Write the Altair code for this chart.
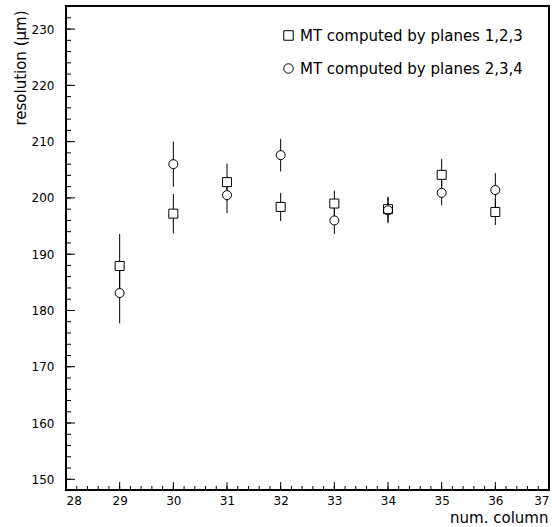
import altair as alt
import pandas as pd

# ---- data ----
columns = [29, 30, 31, 32, 33, 34, 35, 36]
res_123 = [187.9, 197.2, 202.8, 198.4, 199.0, 198.0, 204.1, 197.5]
err_123 = [5.7, 3.5, 3.3, 2.5, 2.3, 2.2, 2.8, 2.3]
res_234 = [183.1, 206.0, 200.5, 207.6, 196.0, 197.8, 200.9, 201.4]
err_234 = [5.4, 4.0, 3.2, 2.9, 2.4, 2.3, 2.2, 3.0]
series_names = ["MT computed by planes 1,2,3", "MT computed by planes 2,3,4"]

x_major = [28, 29, 30, 31, 32, 33, 34, 35, 36, 37]
x_minor = [round(28 + 0.2 * i, 1) for i in range(46)]
y_major = [150, 160, 170, 180, 190, 200, 210, 220, 230]
y_minor = list(range(148, 235, 2))

FONT = "DejaVu Sans"
W, H = 483, 484

rows = []
for c, v, e in zip(columns, res_123, err_123):
    rows.append({"col": c, "res": v, "err": e, "series": series_names[0]})
for c, v, e in zip(columns, res_234, err_234):
    rows.append({"col": c, "res": v, "err": e, "series": series_names[1]})
df = pd.DataFrame(rows)

xscale = alt.Scale(domain=[28, 37], nice=False, zero=False)
yscale = alt.Scale(domain=[148.1, 234.1], nice=False, zero=False)
shape_scale = alt.Scale(domain=series_names, range=["square", "circle"])
color_scale = alt.Scale(domain=series_names, range=["black", "black"])

xaxis = alt.Axis(values=x_major, ticks=False, domain=False, grid=False,
                 labelFontSize=12, labelPadding=5, labelFont=FONT,
                 title="num. column", titleFont=FONT, titleFontSize=15,
                 titleFontWeight="normal", titleAlign="right",
                 titleAnchor="end", titleX=482, titleY=32,
                 titleBaseline="alphabetic", format="d")
yaxis = alt.Axis(values=y_major, ticks=False, domain=False, grid=False,
                 labelFontSize=12, labelPadding=12, labelFont=FONT,
                 title="resolution (μm)", titleFont=FONT, titleFontSize=15,
                 titleFontWeight="normal", titleAlign="right",
                 titleX=-46, titleY=4, titleBaseline="middle", titleAngle=-90)

legend = alt.Legend(title=None, orient="none", legendX=215, legendY=22,
                    symbolSize=90, symbolStrokeWidth=1, symbolOpacity=1,
                    labelFont=FONT, labelFontSize=15, labelColor="black",
                    labelLimit=0, labelOffset=4, rowPadding=17, padding=0)

base = alt.Chart(df)

bars = base.transform_calculate(
    lo="datum.res - datum.err", hi="datum.res + datum.err"
).mark_rule(color="black", strokeWidth=1).encode(
    x=alt.X("col:Q", scale=xscale, axis=xaxis),
    y=alt.Y("lo:Q", scale=yscale, axis=yaxis),
    y2="hi:Q",
)

under_sq = base.transform_filter(
    alt.datum.series == series_names[0]
).mark_point(size=81, filled=True, color="white", opacity=1, shape="square").encode(
    x=alt.X("col:Q", scale=xscale), y=alt.Y("res:Q", scale=yscale))
under_ci = base.transform_filter(
    alt.datum.series == series_names[1]
).mark_point(size=81, filled=True, color="white", opacity=1, shape="circle").encode(
    x=alt.X("col:Q", scale=xscale), y=alt.Y("res:Q", scale=yscale))

points = base.mark_point(size=81, filled=False, strokeWidth=1, opacity=1).encode(
    x=alt.X("col:Q", scale=xscale),
    y=alt.Y("res:Q", scale=yscale),
    shape=alt.Shape("series:N", scale=shape_scale, legend=legend),
    color=alt.Color("series:N", scale=color_scale, legend=legend),
)

xmaj = alt.Chart(pd.DataFrame({"t": x_major})).mark_rule(color="black").encode(
    x=alt.X("t:Q", scale=xscale), y=alt.value(H - 8), y2=alt.value(H))
xmin = alt.Chart(pd.DataFrame({"t": x_minor})).mark_rule(color="black").encode(
    x=alt.X("t:Q", scale=xscale), y=alt.value(H - 4), y2=alt.value(H))
ymaj = alt.Chart(pd.DataFrame({"t": y_major})).mark_rule(color="black").encode(
    y=alt.Y("t:Q", scale=yscale), x=alt.value(0), x2=alt.value(9))
ymin = alt.Chart(pd.DataFrame({"t": y_minor})).mark_rule(color="black").encode(
    y=alt.Y("t:Q", scale=yscale), x=alt.value(0), x2=alt.value(5))

chart = alt.layer(xmin, xmaj, ymin, ymaj, bars, under_sq, under_ci, points).properties(
    width=W, height=H,
    autosize=alt.AutoSizeParams(type="none"),
    padding={"left": 66, "top": 6, "right": 3, "bottom": 37},
    background="white",
).configure_view(stroke="black", strokeWidth=2).configure_axis(
    labelColor="black", titleColor="black"
)

chart.save("out.html", embed_options={"renderer": "svg", "actions": False})
